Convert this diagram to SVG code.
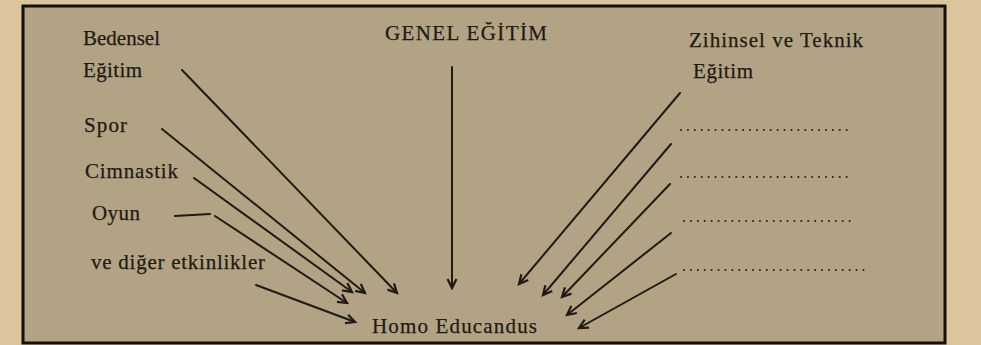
<svg xmlns="http://www.w3.org/2000/svg" width="981" height="345" viewBox="0 0 981 345">
<style>
text{font-family:"Liberation Serif","Times New Roman",serif;fill:#1f1a13;font-size:21px;stroke:#1f1a13;stroke-width:0.25}
.ln{stroke:#1f1a13;stroke-width:2;fill:none;stroke-linecap:round}
.dot{stroke:#2a241b;stroke-width:2;stroke-linecap:round;stroke-dasharray:0.1 6.8;fill:none}
</style>
<defs>
<marker id="ah" markerUnits="userSpaceOnUse" markerWidth="14" markerHeight="14" refX="10" refY="5" orient="auto" overflow="visible">
<path d="M1,0.5 L10,5 L1,9.5" fill="none" stroke="#1f1a13" stroke-width="2.2" stroke-linejoin="miter"/>
</marker>
</defs>
<rect x="0" y="0" width="981" height="345" fill="#dcc59c"/>
<rect x="23" y="6" width="922" height="337" fill="#b2a384" stroke="#14110c" stroke-width="3"/>
<g id="node-bedensel"><text x="83" y="45" textLength="77" lengthAdjust="spacing">Bedensel</text><text x="83" y="77" textLength="59" lengthAdjust="spacing">Eğitim</text></g>
<g id="node-spor"><text x="84" y="132" textLength="43" lengthAdjust="spacing">Spor</text></g>
<g id="node-cimnastik"><text x="85" y="178" textLength="93" lengthAdjust="spacing">Cimnastik</text></g>
<g id="node-oyun"><text x="92" y="220" textLength="48" lengthAdjust="spacing">Oyun</text></g>
<g id="node-diger"><text x="91" y="269" textLength="174" lengthAdjust="spacing">ve diğer etkinlikler</text></g>
<g id="node-genel"><text x="385" y="40" font-size="20" textLength="162" lengthAdjust="spacing">GENEL EĞİTİM</text></g>
<g id="node-zihinsel"><text x="689" y="47" textLength="174" lengthAdjust="spacing">Zihinsel ve Teknik</text><text x="693" y="78" textLength="60" lengthAdjust="spacing">Eğitim</text></g>
<g id="node-blanks">
<line class="dot" x1="681" y1="130" x2="850" y2="130"/>
<line class="dot" x1="681" y1="177" x2="849" y2="177"/>
<line class="dot" x1="684" y1="221" x2="853" y2="221"/>
<line class="dot" x1="684" y1="270" x2="868" y2="270"/>
</g>
<g id="node-homo"><text x="372" y="333" font-size="22" textLength="165" lengthAdjust="spacing">Homo Educandus</text></g>
<g id="connectors">
<line class="ln" x1="182" y1="70" x2="397" y2="293" marker-end="url(#ah)"/>
<line class="ln" x1="162" y1="129" x2="365" y2="293" marker-end="url(#ah)"/>
<line class="ln" x1="194" y1="178" x2="352" y2="292" marker-end="url(#ah)"/>
<line class="ln" x1="175" y1="216" x2="210" y2="214"/>
<line class="ln" x1="215" y1="216" x2="347" y2="303" marker-end="url(#ah)"/>
<line class="ln" x1="256" y1="285" x2="355" y2="322" marker-end="url(#ah)" stroke-width="2.6"/>
<line class="ln" x1="452" y1="67" x2="452" y2="288" marker-end="url(#ah)"/>
<line class="ln" x1="680" y1="93" x2="519" y2="284" marker-end="url(#ah)"/>
<line class="ln" x1="671" y1="144" x2="543" y2="295" marker-end="url(#ah)"/>
<line class="ln" x1="670" y1="184" x2="562" y2="297" marker-end="url(#ah)"/>
<line class="ln" x1="671" y1="233" x2="567" y2="315" marker-end="url(#ah)"/>
<line class="ln" x1="676" y1="274" x2="579" y2="328" marker-end="url(#ah)"/>
</g>
</svg>
